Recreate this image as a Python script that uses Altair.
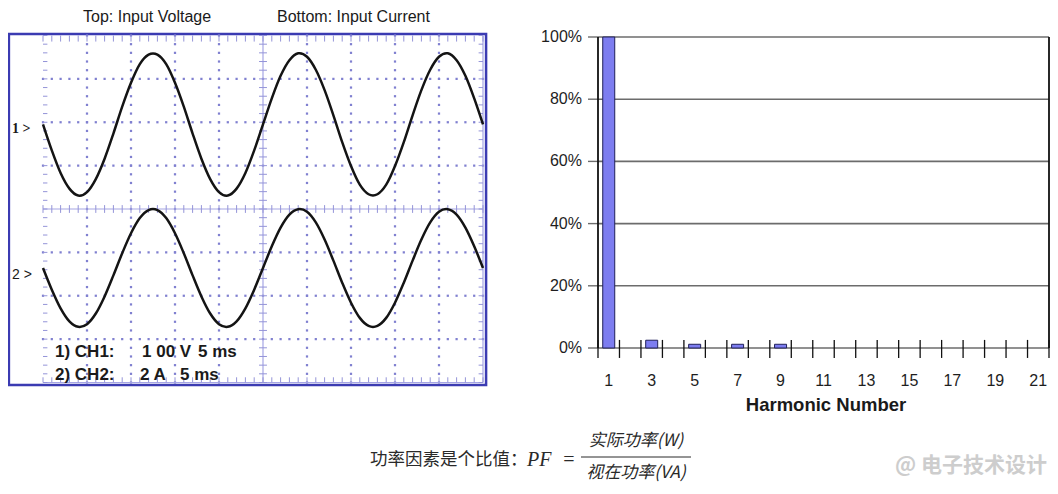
import altair as alt
import pandas as pd
import numpy as np

# ---------------- data ----------------
# oscilloscope traces, sampled every 1 ms (5 ms / division, 10 divisions)
time_ms = list(range(51))
voltage_v = [0, -60, -112, -148, -164, -156, -126, -79, -21, 41, 96, 139, 161, 161, 139, 96, 41,
             -21, -79, -126, -156, -164, -148, -112, -60, 0, 60, 112, 148, 164, 156, 126, 79, 21,
             -41, -96, -139, -161, -161, -139, -96, -41, 21, 79, 126, 156, 164, 148, 112, 60, 0]
current_a = [0, -1.00, -1.86, -2.46, -2.71, -2.59, -2.10, -1.31, -0.34, 0.68, 1.60, 2.30, 2.67,
             2.67, 2.30, 1.60, 0.68, -0.34, -1.31, -2.10, -2.59, -2.71, -2.46, -1.86, -1.00, 0,
             1.00, 1.86, 2.46, 2.71, 2.59, 2.10, 1.31, 0.34, -0.68, -1.60, -2.30, -2.67, -2.67,
             -2.30, -1.60, -0.68, 0.34, 1.31, 2.10, 2.59, 2.71, 2.46, 1.86, 1.00, 0]

# harmonic spectrum
harmonic = [1, 3, 5, 7, 9, 11, 13, 15, 17, 19, 21]
harmonic_pct = [100, 2.5, 1.2, 1.2, 1.2, 0, 0, 0, 0, 0, 0]
y_tick_values = [0, 20, 40, 60, 80, 100]
y_tick_labels = ["0%", "20%", "40%", "60%", "80%", "100%"]

# texts
title_top = "Top: Input Voltage"
title_bottom = "Bottom: Input Current"
ch1_parts = ["1) CH1:", "1 00 V", "5 ms"]
ch2_parts = ["2) CH2:", "2 A", "5 ms"]
marker1 = "1 >"
marker2 = "2 >"
x_title = "Harmonic Number"
formula_left = "功率因素是个比值："
formula_pf = "PF"
formula_eq = "="
formula_num = "实际功率(W)"
formula_den = "视在功率(VA)"
watermark = "@ 电子技术设计"

# ---------------- scope panel ----------------
V_PER_DIV, A_PER_DIV = 100, 2
CH1_ZERO, CH2_ZERO = 5.95, 2.64
SX = alt.Scale(domain=[0, 10], range=[35, 475], nice=False, zero=False, padding=0)
SY = alt.Scale(domain=[0, 8], range=[374.5, 27.5], nice=False, zero=False, padding=0)

trace = pd.DataFrame({
    "t": time_ms * 2,
    "val": voltage_v + current_a,
    "ch": ["CH1"] * len(time_ms) + ["CH2"] * len(time_ms),
})
trace["xd"] = trace["t"] / 5.0
trace["yd"] = np.where(trace["ch"] == "CH1",
                       CH1_ZERO + trace["val"] / V_PER_DIV,
                       CH2_ZERO + trace["val"] / A_PER_DIV)

minor_x = np.round(np.arange(0, 10.001, 0.2), 3)
minor_y = np.round(np.arange(0, 8.001, 0.2), 3)

dots = []
for k in [1, 2, 3, 4, 6, 7, 8, 9]:
    for yy in minor_y:
        dots.append({"x": k, "y": yy})
for k in [1, 2, 3, 5, 6, 7]:
    for xx in minor_x:
        dots.append({"x": xx, "y": k})
dots = pd.DataFrame(dots)

ticks = []
for xx in minor_x:
    ticks.append({"x": xx, "x2": xx, "y": 4 - 0.09, "y2": 4 + 0.09})
    ticks.append({"x": xx, "x2": xx, "y": 8, "y2": 8 - 0.14})
    ticks.append({"x": xx, "x2": xx, "y": 0, "y2": 0.12})
for yy in minor_y:
    ticks.append({"x": 5 - 0.09, "x2": 5 + 0.09, "y": yy, "y2": yy})
    ticks.append({"x": 0, "x2": 0.1, "y": yy, "y2": yy})
    ticks.append({"x": 10, "x2": 9.9, "y": yy, "y2": yy})
ticks = pd.DataFrame(ticks)

axes_lines = pd.DataFrame([
    {"x": 0, "x2": 10, "y": 4, "y2": 4},
    {"x": 5, "x2": 5, "y": 0, "y2": 8},
    {"x": 0, "x2": 10, "y": 0, "y2": 0},
    {"x": 10, "x2": 10, "y": 0, "y2": 8},
])
frame = pd.DataFrame([{"x": -0.775, "x2": 10.07, "y": -0.058, "y2": 8.035}])


def sxy(layer):
    return layer.encode(
        x=alt.X("x:Q", scale=SX, axis=None),
        x2="x2:Q",
        y=alt.Y("y:Q", scale=SY, axis=None),
        y2="y2:Q",
    )


scope_frame = sxy(alt.Chart(frame).mark_rect(fillOpacity=0, stroke="#3b3bb2", strokeWidth=2.5))
scope_ticks = sxy(alt.Chart(ticks).mark_rule(color="#9494d8", strokeWidth=1))
scope_axes = sxy(alt.Chart(axes_lines).mark_rule(color="#a6a6e4", strokeWidth=1.2))
scope_dots = alt.Chart(dots).mark_square(size=5, color="#8080d0", opacity=1).encode(
    x=alt.X("x:Q", scale=SX, axis=None), y=alt.Y("y:Q", scale=SY, axis=None))
scope_trace = alt.Chart(trace).mark_line(interpolate="cardinal", color="#141414", strokeWidth=2.5).encode(
    x=alt.X("xd:Q", scale=SX, axis=None),
    y=alt.Y("yd:Q", scale=SY, axis=None),
    detail="ch:N",
)
scope = alt.layer(scope_frame, scope_dots, scope_axes, scope_ticks, scope_trace)

# ---------------- harmonic bar panel ----------------
BX = alt.Scale(domain=[0.5, 21.5], range=[590, 1041], nice=False, zero=False, padding=0)
BY = alt.Scale(domain=[0, 100], range=[340, 29], nice=False, zero=False, padding=0)

bars_df = pd.DataFrame({"h": harmonic, "pct": harmonic_pct})
bars_df = bars_df[bars_df["pct"] > 0]
grid_df = pd.DataFrame({"x": 0.5, "x2": 21.5, "y": y_tick_values, "y2": y_tick_values})
ytick_df = pd.DataFrame({"x": 0.034, "x2": 0.5, "y": y_tick_values, "y2": y_tick_values})
bounds = np.arange(0.5, 21.51, 1.0)
xtick_df = pd.DataFrame({"x": bounds, "x2": bounds, "y": 2.6, "y2": -3.2})
border_df = pd.DataFrame({"x": [0.5, 21.5], "x2": [0.5, 21.5], "y": [0, 0], "y2": [100, 100]})
ylab_df = pd.DataFrame({"y": y_tick_values, "label": y_tick_labels})
xlab_df = pd.DataFrame({"h": harmonic, "label": [str(h) for h in harmonic]})


def bxy(layer):
    return layer.encode(
        x=alt.X("x:Q", scale=BX, axis=None),
        x2="x2:Q",
        y=alt.Y("y:Q", scale=BY, axis=None),
        y2="y2:Q",
    )


b_grid = bxy(alt.Chart(grid_df).mark_rule(color="#6c6c6c", strokeWidth=1.6))
b_yt = bxy(alt.Chart(ytick_df).mark_rule(color="#6c6c6c", strokeWidth=1.4))
b_xt = bxy(alt.Chart(xtick_df).mark_rule(color="#111111", strokeWidth=1.3))
b_border = bxy(alt.Chart(border_df).mark_rule(color="#111111", strokeWidth=1.8))
b_bars = alt.Chart(bars_df).mark_bar(width=12, color="#7d7df0", stroke="#20205a", strokeWidth=1).encode(
    x=alt.X("h:Q", scale=BX, axis=None),
    y=alt.Y("pct:Q", scale=BY, axis=None),
)
b_ylab = alt.Chart(ylab_df).mark_text(align="right", baseline="middle", dx=-16, fontSize=16,
                                      font="Liberation Sans", color="#1e1e1e").encode(
    x=alt.value(590), y=alt.Y("y:Q", scale=BY, axis=None), text="label:N")
b_xlab = alt.Chart(xlab_df).mark_text(align="center", baseline="middle", fontSize=16,
                                      font="Liberation Sans", color="#1e1e1e").encode(
    x=alt.X("h:Q", scale=BX, axis=None), y=alt.value(373), text="label:N")
bars = alt.layer(b_grid, b_yt, b_border, b_bars, b_xt, b_ylab, b_xlab)

# ---------------- free texts ----------------
one = pd.DataFrame({"a": [0]})


def txt(s, x, y, size, align="left", weight="normal", font="Liberation Sans", color="#1a1a1a", style="normal"):
    return alt.Chart(one).mark_text(align=align, baseline="middle", fontSize=size, fontWeight=weight,
                                    font=font, color=color, fontStyle=style).encode(
        x=alt.value(x), y=alt.value(y), text=alt.value(s))


texts = [
    txt(title_top, 75, 9, 16),
    txt(title_bottom, 269, 9, 16),
    txt(marker1, 4, 121, 14, weight="bold", font="Liberation Serif"),
    txt(marker2, 4, 267, 14),
    txt(ch1_parts[0], 47, 344, 17, weight="bold"),
    txt(ch1_parts[1], 134, 344, 17, weight="bold"),
    txt(ch1_parts[2], 190, 344, 17, weight="bold"),
    txt(ch2_parts[0], 47, 367, 17, weight="bold"),
    txt(ch2_parts[1], 132, 367, 17, weight="bold"),
    txt(ch2_parts[2], 172, 367, 17, weight="bold"),
    txt(x_title, 818, 396.5, 18.5, align="center", weight="bold"),
    txt(formula_left, 362, 452, 17.5, font="Noto Sans CJK SC", color="#2a2a2a"),
    txt(formula_pf, 519, 452, 20, font="Liberation Serif", color="#2a2a2a", style="italic"),
    txt(formula_eq, 561, 452, 20, align="center", font="Liberation Serif", color="#2a2a2a"),
    txt(formula_num, 628, 433, 17, align="center", font="Noto Sans CJK SC", color="#2a2a2a", style="italic"),
    txt(formula_den, 628, 465, 17, align="center", font="Noto Sans CJK SC", color="#2a2a2a", style="italic"),
    txt(watermark, 887, 458, 21, weight="bold", font="Noto Sans CJK SC", color="#cdcdcd"),
]
frac_bar = alt.Chart(one).mark_rule(color="#2a2a2a", strokeWidth=1).encode(
    x=alt.value(573), x2=alt.value(683), y=alt.value(449), y2=alt.value(449))

chart = alt.layer(scope, bars, frac_bar, *texts).resolve_scale(
    x="independent", y="independent"
).properties(
    width=1042, height=478, padding=0, background="white",
    autosize=alt.AutoSizeParams(type="none"),
).configure_view(strokeWidth=0)

chart.save("out.html", embed_options={"renderer": "svg", "actions": False})
